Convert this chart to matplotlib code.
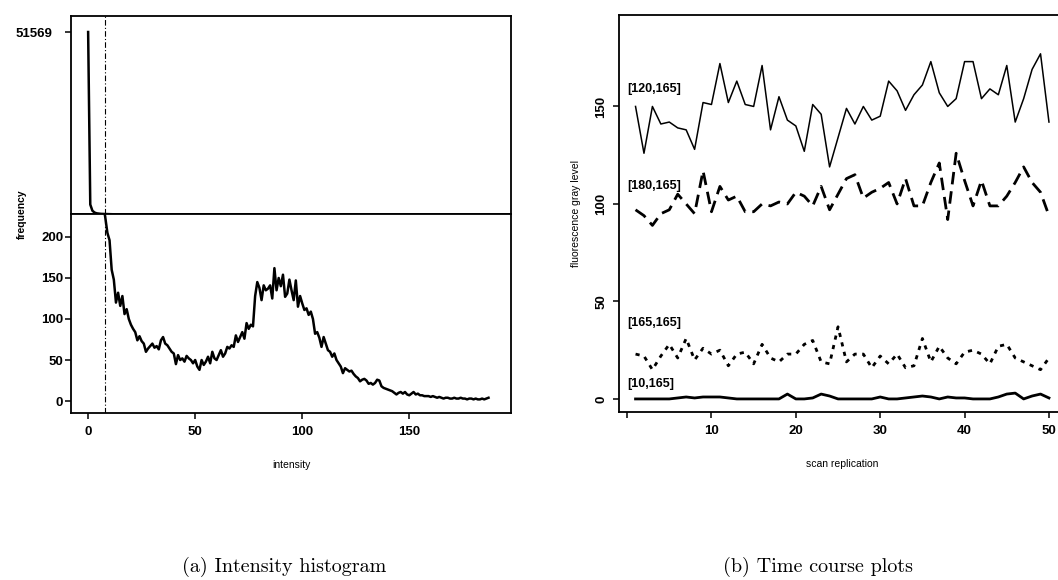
"""Intensity histogram and pixel time course panels."""

import matplotlib

matplotlib.use("Agg")
import matplotlib.pyplot as plt

plt.rcParams["font.family"] = ["Liberation Sans", "DejaVu Sans"]
plt.rcParams["font.weight"] = "bold"

# counts per grey value 0..187
INTENSITY = list(range(188))
FREQUENCY = [
    51569, 2900, 1150, 640, 420, 330, 270, 240,
    224, 205, 196, 160, 148, 120, 132, 116,
    128, 106, 112, 100, 93, 88, 84, 74,
    79, 73, 70, 60, 64, 67, 70, 65,
    67, 63, 74, 78, 70, 68, 64, 60,
    58, 45, 56, 50, 52, 48, 55, 52,
    50, 46, 50, 42, 38, 50, 44, 48,
    54, 46, 60, 52, 50, 56, 62, 54,
    58, 66, 64, 68, 66, 80, 72, 78,
    84, 76, 95, 88, 93, 91, 128, 145,
    138, 123, 141, 135, 137, 141, 125, 162,
    135, 150, 140, 154, 127, 131, 148, 135,
    123, 147, 115, 128, 119, 111, 113, 105,
    109, 100, 82, 84, 77, 66, 78, 70,
    62, 60, 54, 58, 50, 46, 42, 34,
    40, 38, 36, 37, 33, 30, 28, 24,
    26, 27, 25, 21, 22, 20, 22, 26,
    25, 18, 16, 15, 14, 13, 12, 10,
    8, 10, 11, 9, 11, 8, 7, 9,
    11, 8, 9, 7, 7, 6, 6, 6,
    5, 6, 5, 4, 5, 4, 3, 4,
    4, 3, 3, 4, 3, 3, 4, 3,
    3, 2, 3, 3, 2, 3, 2, 2,
    3, 2, 3, 4,
]
PEAK_TICK = 51569
BREAK_AT = 228
CUTOFF = 8

# grey level of four pixels over 50 scans
SCANS = list(range(1, 51))
PIXEL_LABELS = ["[120,165]", "[180,165]", "[165,165]", "[10,165]"]
PIXEL_120_165 = [
    150, 126, 150, 141, 142, 139, 138, 128, 152, 151,
    172, 152, 163, 151, 150, 171, 138, 155, 143, 140,
    127, 151, 146, 119, 134, 149, 141, 150, 143, 145,
    163, 158, 148, 156, 161, 173, 157, 150, 154, 173,
    173, 154, 159, 156, 171, 142, 154, 169, 177, 142,
]
PIXEL_180_165 = [
    97, 94, 89, 95, 97, 105, 100, 95, 117, 96,
    109, 102, 104, 96, 96, 100, 99, 101, 100, 106,
    104, 99, 109, 97, 105, 113, 115, 103, 106, 108,
    111, 100, 113, 99, 99, 111, 121, 92, 126, 112,
    99, 112, 99, 99, 104, 111, 119, 111, 106, 94,
]
PIXEL_165_165 = [
    23, 22, 15, 22, 28, 21, 31, 20, 26, 23,
    25, 17, 23, 24, 18, 28, 21, 19, 23, 23,
    28, 30, 19, 18, 37, 19, 23, 23, 16, 22,
    18, 23, 16, 17, 31, 19, 27, 21, 18, 24,
    25, 23, 18, 27, 28, 21, 19, 17, 15, 21,
]
PIXEL_10_165 = [
    0, 0, 0, 0, 0, 0.5, 1, 0.5, 1, 1,
    1, 0.5, 0, 0, 0, 0, 0, 0, 2.5, 0,
    0, 0.5, 2.5, 1.5, 0, 0, 0, 0, 0, 1,
    0, 0, 0.5, 1, 1.5, 1, 0, 1, 0.5, 0.5,
    0, 0, 0, 1, 2.5, 3, 0, 1.5, 2.5, 0.5,
]
LABEL_Y = [159, 109, 39, 7.7]

W, H = 1058, 580


def box(left, top, right, bottom):
    return [left / W, 1 - bottom / H, (right - left) / W, (bottom - top) / H]


def style_axes(ax, labelsize=9.5):
    for spine in ax.spines.values():
        spine.set_linewidth(1.3)
    ax.tick_params(direction="out", length=4.5, width=1.1, labelsize=labelsize, pad=1)


fig = plt.figure(figsize=(W / 100, H / 100), dpi=100)

# left: histogram with a broken y axis
ax_hi = fig.add_axes(box(71, 16, 511, 214))
ax_lo = fig.add_axes(box(71, 214, 511, 413), sharex=ax_hi)
for ax in (ax_hi, ax_lo):
    ax.plot(INTENSITY, FREQUENCY, color="black", lw=1.8)
    ax.axvline(CUTOFF, color="black", lw=0.8, dashes=(5, 2, 1, 2))
    style_axes(ax)

ax_hi.set_xlim(-8, 197.5)
ax_hi.set_ylim(BREAK_AT, 56084)
ax_hi.set_yticks([PEAK_TICK])
ax_hi.tick_params(axis="y", pad=9)
ax_hi.tick_params(axis="x", bottom=False, labelbottom=False)

ax_lo.set_ylim(-14.6, BREAK_AT)
ax_lo.set_yticks([0, 50, 100, 150, 200])
ax_lo.set_xticks([0, 50, 100, 150])
ax_lo.tick_params(axis="x", pad=5)
ax_lo.set_xlabel("intensity", fontsize=7.5, labelpad=16)
fig.text(22 / W, 1 - 214 / H, "frequency", rotation=90, fontsize=7.5,
         ha="center", va="center")

# right: time course of four pixels
ax_t = fig.add_axes(box(619, 15, 1065.5, 412))
ax_t.plot(SCANS, PIXEL_120_165, color="black", lw=1.1)
ax_t.plot(SCANS, PIXEL_180_165, color="black", lw=2, dashes=(4.5, 2.5))
ax_t.plot(SCANS, PIXEL_165_165, color="black", lw=2, dashes=(1.5, 2))
ax_t.plot(SCANS, PIXEL_10_165, color="black", lw=2)
for label, y in zip(PIXEL_LABELS, LABEL_Y):
    ax_t.text(0, y, label, fontsize=9, ha="left", va="center")
style_axes(ax_t)
ax_t.set_xlim(-0.96, 51.96)
ax_t.set_ylim(-6.7, 196.9)
ax_t.set_xticks([0, 10, 20, 30, 40, 50])
ax_t.set_xticklabels(["", "10", "20", "30", "40", "50"])
ax_t.set_yticks([0, 50, 100, 150])
ax_t.tick_params(axis="x", pad=5)
ax_t.tick_params(axis="y", pad=4)
for lab in ax_t.get_yticklabels():
    lab.set_rotation(90)
    lab.set_va("center")
ax_t.set_xlabel("scan replication", fontsize=7.5, labelpad=16)
ax_t.set_ylabel("fluorescence gray level", fontsize=7.5, labelpad=10)

caption = dict(fontsize=14.5, family=["cmr10", "DejaVu Serif"],
               weight="normal", ha="center", va="center")
fig.text(284 / W, 1 - 567 / H, "(a) Intensity histogram", **caption)
fig.text(818 / W, 1 - 567 / H, "(b) Time course plots", **caption)

fig.savefig("out.png", dpi=100)
